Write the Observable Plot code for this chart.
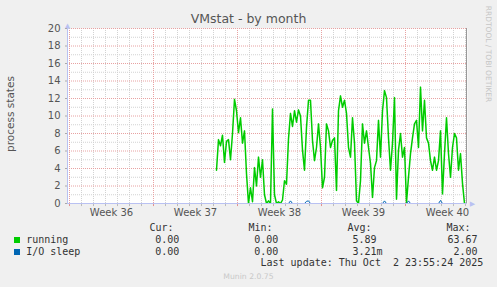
<!DOCTYPE html>
<html><head><meta charset="utf-8">
<script src="https://cdn.jsdelivr.net/npm/d3@7"></script>
<script src="https://cdn.jsdelivr.net/npm/@observablehq/plot@0.6"></script>
<style>
html,body{margin:0;padding:0;background:#f0f0f0;}
#wrap{position:relative;width:497px;height:287px;overflow:hidden;background:#f0f0f0;font-family:"DejaVu Sans",sans-serif;}
#wrap svg{position:absolute;left:0;top:0;}
.t{position:absolute;white-space:pre;}
.mono{font-family:"DejaVu Sans Mono",monospace;font-size:10px;line-height:12px;color:#333;}
</style></head><body><div id="wrap"></div>
<script>
// ---- data ----
const title = "VMstat - by month";
const yLabel = "process states";
const watermark = "RRDTOOL / TOBI OETIKER";
const footer = "Munin 2.0.75";
const lastUpdate = "Last update: Thu Oct  2 23:55:24 2025";
const weekLabels = ["Week 36", "Week 37", "Week 38", "Week 39", "Week 40"];
const weekStartDays = ["2025-08-31", "2025-09-07", "2025-09-14", "2025-09-21", "2025-09-28"];
const yTicks = [0, 2, 4, 6, 8, 10, 12, 14, 16, 18, 20];
const graphStart = "2025-08-30T20:00:00Z";
const graphEnd = "2025-10-03T04:00:00Z";
const seriesStart = "2025-09-12T06:00:00Z";
const stepHours = 4;
const running = [
  3.8, 7.3, 6.6, 7.8, 4.7, 7.1, 7.3, 5.0, 8.0, 11.9, 10.6, 8.1, 9.8, 6.9, 8.3, 3.4,
  0.0, 1.8, 0.2, 4.1, 2.0, 5.3, 3.0, 5.0, 1.0, 0.0, 0.3, 0.0, 10.8, 1.0, 0.0, 0.2,
  0.0, 0.4, 2.6, 2.2, 7.4, 10.3, 8.8, 10.6, 9.3, 10.7, 10.0, 6.1, 3.8, 8.7, 11.8, 11.8,
  7.2, 4.9, 6.4, 9.1, 6.4, 1.8, 3.0, 9.1, 8.3, 6.4, 7.2, 7.5, 1.5, 10.6, 12.3, 11.0,
  11.8, 10.3, 6.4, 5.3, 9.8, 6.9, 0.3, 0.0, 2.6, 9.1, 6.9, 8.3, 6.4, 4.6, 0.7, 4.1,
  4.9, 9.5, 5.3, 10.6, 12.9, 12.1, 7.5, 3.8, 6.9, 12.1, 0.5, 6.1, 8.0, 5.3, 6.4, 0.1,
  3.0, 5.7, 7.5, 9.1, 9.5, 6.4, 13.3, 8.3, 11.8, 7.5, 6.9, 4.9, 3.8, 5.3, 3.8, 4.9,
  8.3, 1.1, 5.7, 9.8, 5.7, 3.0, 6.4, 8.0, 7.5, 3.8, 5.7, 2.3, 0.0
];
const ioSleep = running.map(() => 0);
const ioBlipIndex = [37, 45, 46, 84, 96, 112];
const ioBlipValue = [0.3, 0.25, 0.3, 0.3, 0.3, 0.35];
ioBlipIndex.forEach((k, j) => { ioSleep[k] = ioBlipValue[j]; });

const legendNames = ["running", "I/O sleep"];
const legendColors = ["#00cc00", "#0066b3"];
const legendHeads = ["Cur:", "Min:", "Avg:", "Max:"];
const curVals = ["0.00", "0.00"];
const minVals = ["0.00", "0.00"];
const avgVals = ["5.89", "3.21m"];
const maxVals = ["63.67", "2.00"];

// ---- build ----
const H = 3600e3;
const t0 = new Date(seriesStart);
const data = running.map((v, i) => ({t: new Date(+t0 + i * stepHours * H), running: v, io: ioSleep[i]}));
const xDomain = [new Date(graphStart), new Date(graphEnd)];
const weekStarts = weekStartDays.map(d => new Date(d + "T00:00:00Z"));
const weekMids = weekStarts.map(d => new Date(+d + 3.5 * 24 * H));
const labelByTime = new Map(weekMids.map((d, i) => [+d, weekLabels[i]]));
const days = d3.utcDay.range(weekStarts[0], xDomain[1]);
const minorDays = days.filter(d => d.getUTCDay() !== 0);
const minorY = d3.range(1, 20, 2);
const axisColor = "#b9c1f2";
const minorColor = "#d2d2d2";
const majorColor = "#e8a2a2";

const chart = Plot.plot({
  width: 497, height: 287,
  marginLeft: 67, marginRight: 30, marginTop: 28, marginBottom: 84,
  style: {background: "transparent", fontFamily: "DejaVu Sans, sans-serif", fontSize: "10px", color: "#555"},
  x: {type: "utc", domain: xDomain, label: null},
  y: {domain: [0, 20], label: null},
  marks: [
    Plot.frame({fill: "white", stroke: null}),
    Plot.ruleY(minorY, {stroke: minorColor, strokeDasharray: "1,1"}),
    Plot.ruleX(minorDays, {stroke: minorColor, strokeDasharray: "1,1"}),
    Plot.ruleY(yTicks, {stroke: majorColor, strokeDasharray: "1,1"}),
    Plot.ruleX(weekStarts, {stroke: majorColor, strokeDasharray: "1,1"}),
    Plot.ruleX(minorDays, {x: d => d, y1: 0, y2: -0.35, stroke: "#bbb"}),
    Plot.ruleX(weekStarts, {x: d => d, y1: 0, y2: -0.35, stroke: "#e39090"}),
    Plot.ruleX([xDomain[0]], {stroke: axisColor}),
    Plot.ruleY([0], {stroke: axisColor}),
    Plot.text([xDomain[0]], {x: d => d, y: () => 20, text: () => "▲", dy: -3, fill: axisColor, fontSize: 7}),
    Plot.text([xDomain[1]], {x: d => d, y: () => 0, text: () => "▶", dx: 5, fill: axisColor, fontSize: 7}),
    Plot.ruleX([xDomain[1]], {stroke: "#999", dx: -1}),
    Plot.line(data, {x: "t", y: "running", stroke: legendColors[0], strokeWidth: 1.5, clip: true}),
    Plot.line(data, {x: "t", y: "io", stroke: legendColors[1], strokeWidth: 1, clip: true}),
    Plot.axisY(yTicks, {tickSize: 2, tickPadding: 5, stroke: "#aaa", fill: "#555", fontSize: 10, label: null}),
    Plot.axisX(weekMids, {tickSize: 0, tickPadding: 5, fill: "#555", fontSize: 10, label: null,
      tickFormat: d => labelByTime.get(+d)})
  ]
});
const wrap = document.getElementById("wrap");
wrap.appendChild(chart);

function addText(txt, css, cls) {
  const el = document.createElement("div");
  el.className = "t" + (cls ? " " + cls : "");
  el.textContent = txt;
  Object.assign(el.style, css);
  wrap.appendChild(el);
  return el;
}
// title
addText(title, {left: "0px", width: "497px", textAlign: "center", top: "10.6px", fontSize: "12.5px", lineHeight: "15px", color: "#555"});
// y label
addText(yLabel, {left: "10px", top: "114px", fontSize: "10.5px", lineHeight: "12px", color: "#555", transform: "translate(-50%,-50%) rotate(-90deg)"});
// watermark
addText(watermark, {left: "488px", top: "54px", fontSize: "7.5px", lineHeight: "9px", color: "#c6c6c6", transform: "translate(-50%,-50%) rotate(90deg)"});
// legend headers
const headLeft = [149.5, 248.5, 347.5, 446.5];
legendHeads.forEach((h, i) => addText(h, {left: headLeft[i] + "px", top: "221.5px"}, "mono"));
const rowTop = [233.8, 245.8];
const colLeft = [155.2, 254.2, 352.5];
legendNames.forEach((n, i) => {
  const sq = document.createElement("div");
  Object.assign(sq.style, {position: "absolute", left: "14px", top: (rowTop[i] + 3.3) + "px", width: "6px", height: "6px", background: legendColors[i]});
  wrap.appendChild(sq);
  addText(n, {left: "26.2px", top: rowTop[i] + "px"}, "mono");
  addText(curVals[i], {left: colLeft[0] + "px", top: rowTop[i] + "px"}, "mono");
  addText(minVals[i], {left: colLeft[1] + "px", top: rowTop[i] + "px"}, "mono");
  addText(avgVals[i], {left: colLeft[2] + "px", top: rowTop[i] + "px"}, "mono");
  addText(maxVals[i], {left: "auto", right: (497 - 477.5) + "px", top: rowTop[i] + "px"}, "mono");
});
addText(lastUpdate, {left: "260.5px", top: "257.2px"}, "mono");
addText(footer, {left: "0px", width: "497px", textAlign: "center", top: "272px", fontSize: "7.7px", lineHeight: "9px", color: "#c8c8c8"});
</script>
</body></html>
